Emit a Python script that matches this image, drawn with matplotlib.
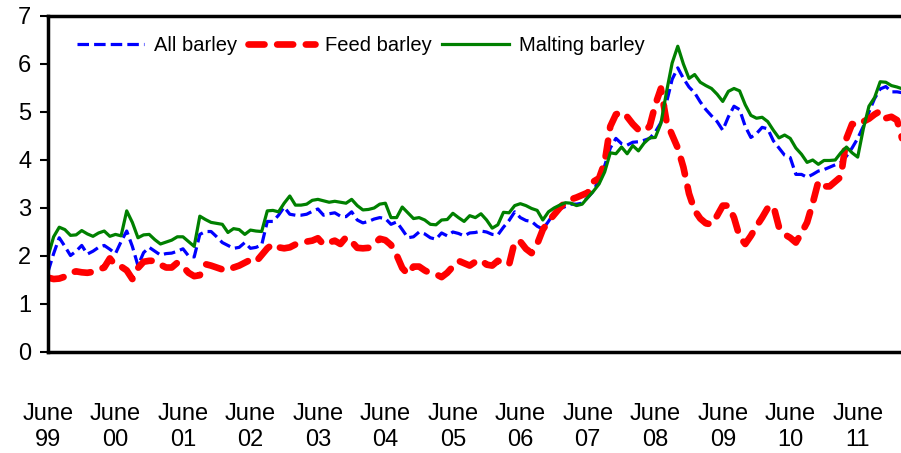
import numpy as np
import matplotlib
matplotlib.use("Agg")
import matplotlib.pyplot as plt

plt.rcParams['font.family'] = ['Liberation Sans', 'DejaVu Sans']

# monthly prices, June 1999 onwards
all_barley = [
    1.67, 2.05, 2.38, 2.20, 2.01, 2.10, 2.22, 2.04, 2.10, 2.18, 2.22, 2.14,
    2.05, 2.30, 2.52, 2.20, 1.80, 2.07, 2.18, 2.10, 2.02, 2.05, 2.06, 2.10,
    2.15, 2.00, 1.98, 2.45, 2.51, 2.51, 2.40, 2.28, 2.22, 2.16, 2.18, 2.28,
    2.16, 2.18, 2.23, 2.72, 2.72, 2.85, 3.02, 2.87, 2.85, 2.85, 2.87, 2.93,
    2.98, 2.85, 2.88, 2.90, 2.83, 2.82, 2.92, 2.75, 2.69, 2.72, 2.77, 2.80,
    2.78, 2.66, 2.71, 2.55, 2.38, 2.40, 2.50, 2.46, 2.38, 2.35, 2.48, 2.42,
    2.50, 2.47, 2.42, 2.48, 2.49, 2.52, 2.50, 2.45, 2.44, 2.60, 2.74, 2.92,
    2.80, 2.74, 2.72, 2.62, 2.56, 2.72, 2.90, 2.98, 3.03, 3.08, 3.08, 3.10,
    3.22, 3.35, 3.60, 3.88, 4.25, 4.45, 4.34, 4.31, 4.37, 4.38, 4.41, 4.45,
    4.58, 4.78, 5.20, 5.68, 5.92, 5.70, 5.52, 5.40, 5.21, 5.05, 4.92, 4.80,
    4.62, 4.90, 5.12, 5.05, 4.70, 4.47, 4.55, 4.68, 4.65, 4.40, 4.25, 4.10,
    4.05, 3.70, 3.70, 3.64, 3.70, 3.77, 3.80, 3.85, 3.90, 3.95, 4.08, 4.25,
    4.45, 4.70, 5.00, 5.28, 5.48, 5.53, 5.42, 5.42, 5.40,
]
feed_barley = [
    1.55, 1.52, 1.53, 1.57, 1.65, 1.68, 1.66, 1.65, 1.67, 1.72, 1.76, 1.95,
    1.80, 1.78, 1.70, 1.52, 1.75, 1.88, 1.90, 1.90, 1.82, 1.76, 1.76, 1.86,
    1.78, 1.65, 1.58, 1.60, 1.83, 1.80, 1.76, 1.72, 1.70, 1.76, 1.80, 1.86,
    1.92, 1.88, 2.02, 2.16, 2.25, 2.18, 2.16, 2.18, 2.24, 2.27, 2.30, 2.32,
    2.37, 2.24, 2.28, 2.32, 2.25, 2.39, 2.30, 2.17, 2.16, 2.17, 2.25, 2.36,
    2.33, 2.23, 2.02, 1.75, 1.62, 1.78, 1.78, 1.70, 1.64, 1.62, 1.56, 1.65,
    1.78, 1.90, 1.85, 1.80, 1.88, 1.92, 1.82, 1.80, 1.90, 1.85, 1.82, 2.30,
    2.30, 2.15, 2.06, 2.25, 2.55, 2.72, 2.86, 3.00, 3.12, 3.18, 3.22, 3.27,
    3.32, 3.55, 3.62, 3.95, 4.70, 4.95, 5.00, 4.90, 4.75, 4.63, 4.60, 4.70,
    5.15, 5.49, 4.80, 4.52, 4.25, 3.85, 3.30, 2.95, 2.78, 2.68, 2.66, 2.84,
    3.05, 3.05, 2.80, 2.40, 2.25, 2.42, 2.62, 2.80, 3.00, 3.05, 2.60, 2.45,
    2.38, 2.28, 2.48, 2.70, 3.10, 3.55, 3.45, 3.45, 3.55, 3.65, 4.45, 4.75,
    4.72, 4.80, 4.86, 4.95, 5.02, 4.87, 4.90, 4.83, 4.40,
]
malting_barley = [
    1.99, 2.40, 2.60, 2.55, 2.43, 2.44, 2.53, 2.46, 2.41, 2.48, 2.52, 2.41,
    2.45, 2.42, 2.94, 2.70, 2.38, 2.44, 2.45, 2.34, 2.25, 2.29, 2.33, 2.40,
    2.40, 2.30, 2.20, 2.83, 2.76, 2.70, 2.68, 2.66, 2.49, 2.57, 2.55, 2.45,
    2.54, 2.52, 2.51, 2.94, 2.95, 2.92, 3.10, 3.25, 3.06, 3.06, 3.08, 3.16,
    3.18, 3.15, 3.12, 3.14, 3.12, 3.10, 3.18, 3.05, 2.96, 2.97, 3.00, 3.08,
    3.10, 2.80, 2.80, 3.02, 2.90, 2.78, 2.80, 2.75, 2.66, 2.65, 2.75, 2.76,
    2.89, 2.80, 2.72, 2.84, 2.80, 2.88, 2.75, 2.58, 2.65, 2.91, 2.90, 3.05,
    3.09, 3.05, 2.99, 2.95, 2.75, 2.92, 3.00, 3.06, 3.11, 3.10, 3.05, 3.08,
    3.22, 3.35, 3.50, 3.75, 4.15, 4.13, 4.27, 4.13, 4.30, 4.19, 4.35, 4.46,
    4.47, 4.76, 5.42, 6.02, 6.37, 6.00, 5.70, 5.78, 5.62, 5.55, 5.49, 5.37,
    5.22, 5.43, 5.49, 5.44, 5.15, 4.93, 4.87, 4.89, 4.80, 4.62, 4.46, 4.52,
    4.45, 4.25, 4.12, 3.95, 4.00, 3.91, 3.99, 3.99, 4.00, 4.15, 4.27, 4.15,
    4.06, 4.65, 5.12, 5.30, 5.63, 5.62, 5.55, 5.52, 5.48,
]
tick_labels = ['June\n99', 'June\n00', 'June\n01', 'June\n02', 'June\n03',
               'June\n04', 'June\n05', 'June\n06', 'June\n07', 'June\n08',
               'June\n09', 'June\n10', 'June\n11']

months = np.arange(len(all_barley))

fig = plt.figure(figsize=(9.01, 4.53), dpi=100)
ax = fig.add_axes([48 / 901, 101 / 453, 853 / 901, 336 / 453])

ax.plot(months, all_barley, color='#0000ff', lw=2.3, dashes=(3.6, 1.6),
        label='All barley')
ax.plot(months, feed_barley, color='#ff0000', lw=4.8, dashes=(2.4, 1.9),
        dash_capstyle='round', label='Feed barley')
ax.plot(months, malting_barley, color='#008000', lw=2.3, label='Malting barley')

ax.set_xlim(0, 151.7)
ax.set_ylim(0, 7)
ax.set_yticks(range(8))
ax.set_xticks(range(0, 13 * 12, 12))
ax.set_xticklabels(tick_labels, linespacing=1.2)
ax.tick_params(axis='x', length=0, pad=37, labelsize=17)
ax.tick_params(axis='y', length=6, width=1.5, direction='out', labelsize=17, pad=6)

for side in ['left', 'bottom', 'top']:
    ax.spines[side].set_linewidth(2.5)
ax.spines['right'].set_visible(False)

ax.legend(loc='upper left', bbox_to_anchor=(0.025, 0.965), ncol=3, frameon=False,
          fontsize=14.5, handlelength=3.3, handletextpad=0.5, columnspacing=0.55,
          borderaxespad=0)

fig.savefig('out.png', dpi=100)
